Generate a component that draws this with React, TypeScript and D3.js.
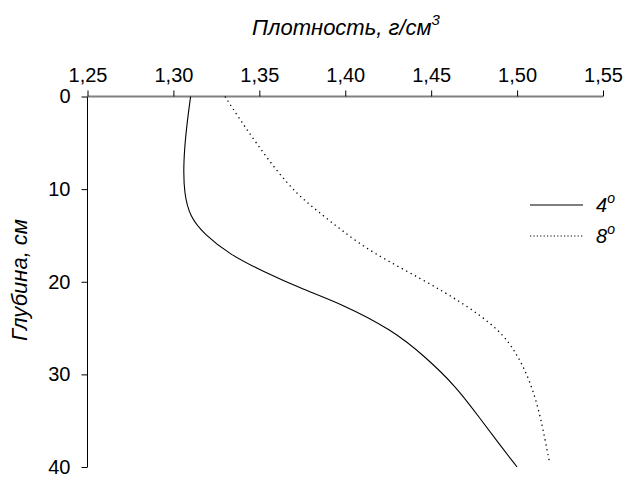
import * as d3 from "d3";
import React, { RefObject, useEffect, useRef } from "react";

// глубина (см) и плотность (г/см3) для двух температур
const depth4 = [0, 3.6, 7.2, 10.5, 13, 14.8, 17.1, 18.9, 20.7, 22.4, 25.2, 28.1, 31.3, 34.9, 37.5, 40];
const dens4 = [1.31, 1.3074, 1.3058, 1.3062, 1.3097, 1.3175, 1.333, 1.3523, 1.3737, 1.398, 1.4273, 1.4466, 1.4645, 1.479, 1.4895, 1.5];
const depth8 = [0, 2.5, 5.1, 8, 10.5, 12.3, 14.4, 16.8, 19.8, 22.3, 25.2, 27.7, 30.6, 34.2, 37, 39.6];
const dens8 = [1.33, 1.3388, 1.3485, 1.36, 1.3717, 1.3834, 1.3975, 1.415, 1.4454, 1.4686, 1.49, 1.4996, 1.5074, 1.5132, 1.5162, 1.519];
const seriesNames = ["4", "8"];
const xTicks = [1.25, 1.3, 1.35, 1.4, 1.45, 1.5, 1.55];
const yTicks = [0, 10, 20, 30, 40];

const width = 626;
const height = 477;
const font = "'Liberation Sans', Arial, sans-serif";

const App = () => {
  const ref: RefObject<SVGSVGElement> = useRef(null);

  useEffect(() => {
    const svg = d3.select(ref.current);
    svg.selectAll("*").remove();

    const x = d3.scaleLinear().domain([1.25, 1.55]).range([87.5, 603]);
    const y = d3.scaleLinear().domain([0, 40]).range([96.5, 467]);

    // левая ось
    const yAxis = svg.append("g").attr("transform", `translate(${x(1.25)},0)`)
      .call(d3.axisLeft(y).tickValues(yTicks).tickSize(6).tickPadding(11).tickFormat((d) => String(d)));
    yAxis.select(".domain").attr("stroke", "#000").attr("d", `M0,${y(0)}V${y(40)}`);
    yAxis.selectAll("text").attr("font-family", font).attr("font-size", 20).attr("fill", "#000");

    // верхняя ось
    const xAxis = svg.append("g").attr("transform", `translate(0,${y(0)})`)
      .call(d3.axisTop(x).tickValues(xTicks).tickSize(6).tickPadding(9)
        .tickFormat((d) => d3.format(".2f")(d as number).replace(".", ",")));
    xAxis.select(".domain").attr("stroke", "#808080").attr("stroke-width", 2)
      .attr("d", `M${x(1.25)},0H${x(1.55)}`);
    xAxis.selectAll(".tick line").attr("stroke", "#000");
    xAxis.selectAll("text").attr("font-family", font).attr("font-size", 20).attr("fill", "#000");

    const line = d3.line<[number, number]>()
      .x((d) => x(d[0]))
      .y((d) => y(d[1]))
      .curve(d3.curveBasis);

    const s4: [number, number][] = dens4.map((v, i) => [v, depth4[i]]);
    const s8: [number, number][] = dens8.map((v, i) => [v, depth8[i]]);

    svg.append("path").datum(s4).attr("d", line).attr("fill", "none")
      .attr("stroke", "#000").attr("stroke-width", 1.1);
    svg.append("path").datum(s8).attr("d", line).attr("fill", "none")
      .attr("stroke", "#000").attr("stroke-width", 1.3).attr("stroke-dasharray", "1.3,3.7");

    // легенда
    const leg = svg.append("g");
    seriesNames.forEach((name, i) => {
      const ly = 205 + i * 31;
      leg.append("line").attr("x1", 530).attr("x2", 583).attr("y1", ly).attr("y2", ly)
        .attr("stroke", "#000").attr("stroke-width", 1.1)
        .attr("stroke-dasharray", i === 1 ? "1.2,2.2" : null);
      const t = leg.append("text").attr("x", 596).attr("y", ly + 7)
        .attr("font-family", font).attr("font-size", 20).attr("font-style", "italic");
      t.append("tspan").text(name);
      t.append("tspan").attr("dy", -9).attr("font-size", 14).text("o");
    });

    // подписи осей
    const title = svg.append("text").attr("x", 346).attr("y", 35).attr("text-anchor", "middle")
      .attr("font-family", font).attr("font-size", 22).attr("font-style", "italic");
    title.append("tspan").text("Плотность, г/см");
    title.append("tspan").attr("dy", -10).attr("font-size", 15).text("3");

    svg.append("text").attr("transform", "translate(27,280) rotate(-90)")
      .attr("text-anchor", "middle").attr("font-family", font).attr("font-size", 22)
      .attr("font-style", "italic").text("Глубина, см");
  }, [ref]);

  return (
    <svg ref={ref} width={width} height={height}
      style={{ position: "absolute", left: 0, top: 0, background: "#fff" }} />
  );
};

export default App;
